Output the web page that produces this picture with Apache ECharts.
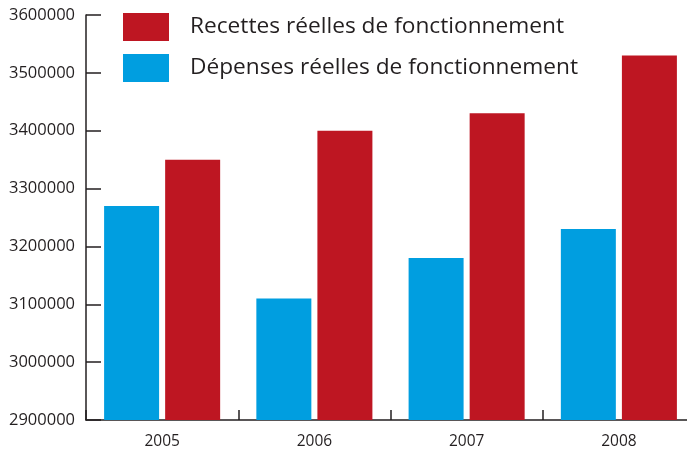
<!DOCTYPE html>
<html>
<head>
<meta charset="utf-8">
<script src="https://cdn.jsdelivr.net/npm/echarts@6/dist/echarts.min.js"></script>
<style>
  html, body { margin: 0; padding: 0; background: #fff; overflow: hidden; }
  #chart { width: 695px; height: 450px; }
</style>
</head>
<body>
<div id="chart"></div>
<script>
const years = ['2005', '2006', '2007', '2008'];
const depenses = [3270000, 3110000, 3180000, 3230000];
const recettes = [3350000, 3400000, 3430000, 3530000];

const chart = echarts.init(document.getElementById('chart'));

const axisColor = '#231f20';

chart.setOption({
    animation: false,
    textStyle: { fontFamily: 'Open Sans' },
    legend: {
        orient: 'vertical',
        left: 123,
        top: 13,
        padding: 0,
        itemWidth: 46,
        itemHeight: 28,
        itemGap: 13,
        data: ['Recettes réelles de fonctionnement', 'Dépenses réelles de fonctionnement'],
        textStyle: { fontSize: 22.7, color: axisColor, padding: [0, 0, 0, 16] },
        icon: 'rect'
    },
    grid: {
        left: 86,
        top: 15,
        right: 0,
        bottom: 30,
        containLabel: false
    },
    xAxis: {
        type: 'category',
        data: years,
        axisLine: { lineStyle: { color: axisColor, width: 1.5 } },
        axisTick: { show: true, inside: true, length: 10, lineStyle: { color: axisColor, width: 1.5 } },
        axisLabel: { fontSize: 15.5, color: axisColor, margin: 14 }
    },
    yAxis: {
        type: 'value',
        min: 2900000,
        max: 3600000,
        interval: 100000,
        splitLine: { show: false },
        axisLine: { show: true, lineStyle: { color: axisColor, width: 1.5 } },
        axisTick: { show: true, inside: true, length: 15, lineStyle: { color: axisColor, width: 1.5 } },
        axisLabel: { fontSize: 16.5, color: axisColor, margin: 11, formatter: v => String(v) }
    },
    series: [
        {
            name: 'Dépenses réelles de fonctionnement',
            type: 'bar',
            data: depenses,
            barWidth: 55,
            barGap: '11%',
            itemStyle: { color: '#009ee0' }
        },
        {
            name: 'Recettes réelles de fonctionnement',
            type: 'bar',
            data: recettes,
            barWidth: 55,
            itemStyle: { color: '#be1622' }
        }
    ]
});
</script>
</body>
</html>
